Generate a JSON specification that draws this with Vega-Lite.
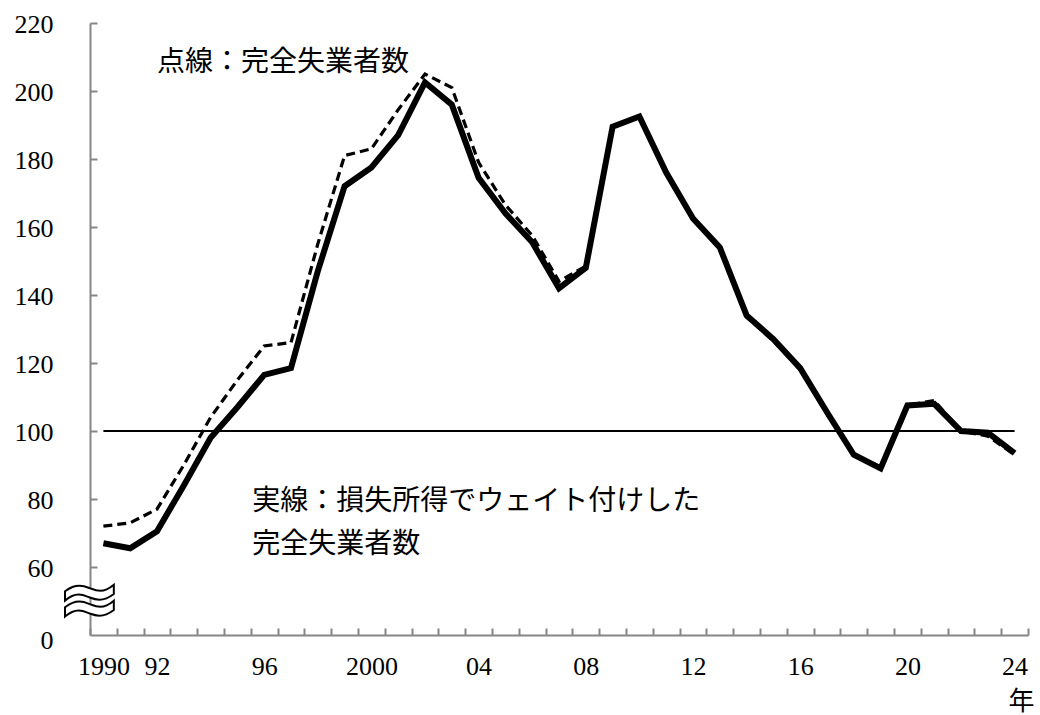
{
  "$schema": "https://vega.github.io/schema/vega-lite/v6.json",
  "width": 938,
  "height": 612,
  "autosize": "none",
  "padding": {"left": 90, "top": 23, "right": 12, "bottom": 80},
  "background": "white",
  "config": {"view": {"stroke": null}, "font": "Liberation Serif"},
  "datasets": {
    "series": [
      {"year": 1990, "solid": 67, "dashed": 72},
      {"year": 1991, "solid": 65.5, "dashed": 73},
      {"year": 1992, "solid": 70.5, "dashed": 77},
      {"year": 1993, "solid": 84, "dashed": 90},
      {"year": 1994, "solid": 98, "dashed": 104},
      {"year": 1995, "solid": 107, "dashed": 115},
      {"year": 1996, "solid": 116.5, "dashed": 125},
      {"year": 1997, "solid": 118.5, "dashed": 126},
      {"year": 1998, "solid": 147, "dashed": 155},
      {"year": 1999, "solid": 172, "dashed": 181},
      {"year": 2000, "solid": 177.5, "dashed": 183},
      {"year": 2001, "solid": 187, "dashed": 194.5},
      {"year": 2002, "solid": 202.5, "dashed": 205},
      {"year": 2003, "solid": 196, "dashed": 201},
      {"year": 2004, "solid": 174.5, "dashed": 179},
      {"year": 2005, "solid": 164, "dashed": 166.5},
      {"year": 2006, "solid": 155.5, "dashed": 157.5},
      {"year": 2007, "solid": 142, "dashed": 144},
      {"year": 2008, "solid": 148, "dashed": 148.5},
      {"year": 2009, "solid": 189.5, "dashed": 189.5},
      {"year": 2010, "solid": 192.5, "dashed": 192.5},
      {"year": 2011, "solid": 176, "dashed": 176},
      {"year": 2012, "solid": 162.5, "dashed": 162.5},
      {"year": 2013, "solid": 154, "dashed": 153.5},
      {"year": 2014, "solid": 134, "dashed": 133.5},
      {"year": 2015, "solid": 127, "dashed": 126.5},
      {"year": 2016, "solid": 118.5, "dashed": 118},
      {"year": 2017, "solid": 105.5, "dashed": 105},
      {"year": 2018, "solid": 93, "dashed": 93},
      {"year": 2019, "solid": 89, "dashed": 89.5},
      {"year": 2020, "solid": 107.5, "dashed": 107.5},
      {"year": 2021, "solid": 108, "dashed": 109},
      {"year": 2022, "solid": 100, "dashed": 100},
      {"year": 2023, "solid": 99.5, "dashed": 98.5},
      {"year": 2024, "solid": 93.5, "dashed": 93}
    ],
    "baseline": [{"year": 1990, "year2": 2024, "v": 100}],
    "notes": [
      {"year": 1992.0, "v": 208.3, "label": "点線：完全失業者数"},
      {"year": 1995.55, "v": 79.2, "label": "実線：損失所得でウェイト付けした"},
      {"year": 1995.55, "v": 66.5, "label": "完全失業者数"}
    ],
    "brk": [{"year": 1989.48, "v": 49.6, "sym": "≈"}]
  },
  "encoding": {
    "x": {
      "field": "year",
      "type": "quantitative",
      "scale": {"domain": [1989.5, 2024.5], "nice": false, "zero": false},
      "axis": {
        "values": [1989.5, 1990.5, 1991.5, 1992.5, 1993.5, 1994.5, 1995.5, 1996.5, 1997.5, 1998.5, 1999.5, 2000.5, 2001.5, 2002.5, 2003.5, 2004.5, 2005.5, 2006.5, 2007.5, 2008.5, 2009.5, 2010.5, 2011.5, 2012.5, 2013.5, 2014.5, 2015.5, 2016.5, 2017.5, 2018.5, 2019.5, 2020.5, 2021.5, 2022.5, 2023.5, 2024.5, 1990, 1992, 1996, 2000, 2004, 2008, 2012, 2016, 2020, 2024],
        "labelExpr": "datum.value % 1 != 0 ? '' : ((datum.value == 1990 || datum.value == 2000) ? toString(datum.value) : substring(toString(datum.value), 2))",
        "tickOpacity": {"condition": {"test": "datum.value % 1 == 0", "value": 0}, "value": 1},
        "grid": false,
        "title": "年",
        "titleX": 931,
        "titleY": 66,
        "titleAlign": "center",
        "titleBaseline": "middle",
        "titleFont": "Noto Sans CJK JP",
        "titleFontSize": 26,
        "titleFontWeight": "normal",
        "titleColor": "black",
        "domainColor": "#868686",
        "domainWidth": 2,
        "tickColor": "#868686",
        "tickWidth": 2,
        "tickSize": -7,
        "labelFont": "Liberation Serif",
        "labelFontSize": 26,
        "labelColor": "black",
        "labelPadding": 25,
        "labelOverlap": false,
        "labelFlush": false,
        "labelBound": false,
        "labelAngle": 0
      }
    },
    "y": {
      "field": "v",
      "type": "quantitative",
      "scale": {"domain": [40, 220], "nice": false, "zero": false},
      "axis": {
        "values": [40, 60, 80, 100, 120, 140, 160, 180, 200, 220],
        "labelExpr": "datum.value == 40 ? '0' : datum.label",
        "tickOpacity": {"condition": {"test": "datum.value == 40", "value": 0}, "value": 1},
        "labelOffset": {"condition": {"test": "datum.value == 40", "value": 5}, "value": 1.5},
        "grid": false,
        "title": null,
        "domainColor": "#868686",
        "domainWidth": 2,
        "tickColor": "#868686",
        "tickWidth": 2,
        "tickSize": -7,
        "labelFont": "Liberation Serif",
        "labelFontSize": 26,
        "labelColor": "black",
        "labelPadding": 44,
        "labelOverlap": false,
        "labelFlush": false,
        "labelBound": false
      }
    }
  },
  "layer": [
    {
      "data": {"name": "baseline"},
      "mark": {"type": "rule", "color": "black", "strokeWidth": 2},
      "encoding": {
        "x2": {"field": "year2"}
      }
    },
    {
      "data": {"name": "series"},
      "transform": [
        {"fold": ["dashed"], "as": ["series", "v"]}
      ],
      "mark": {"type": "line", "color": "black", "strokeWidth": 3.2, "strokeDash": [9, 5]}
    },
    {
      "data": {"name": "series"},
      "transform": [
        {"fold": ["solid"], "as": ["series", "v"]}
      ],
      "mark": {"type": "line", "color": "black", "strokeWidth": 6}
    },
    {
      "data": {"name": "notes"},
      "mark": {"type": "text", "align": "left", "baseline": "middle", "font": "Noto Sans CJK JP", "fontSize": 28, "color": "black"},
      "encoding": {
        "text": {"field": "label"}
      }
    },
    {
      "data": {"name": "brk"},
      "mark": {"type": "text", "align": "center", "baseline": "middle", "font": "DejaVu Sans", "fontWeight": "bold", "fontSize": 78, "fill": "white", "stroke": "black", "strokeWidth": 2},
      "encoding": {
        "text": {"field": "sym"}
      }
    }
  ]
}
